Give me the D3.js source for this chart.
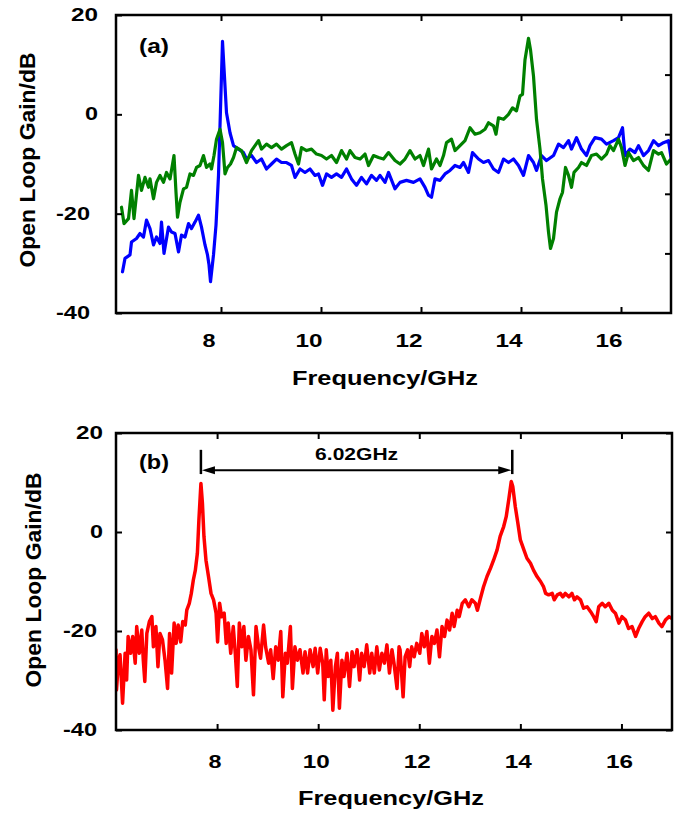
<!DOCTYPE html>
<html lang="en">
<head>
<meta charset="utf-8">
<title>Open Loop Gain</title>
<script src="https://d3js.org/d3.v7.min.js"></script>
<style>
  body { margin: 0; background: #fff; }
  text { font-family: "Liberation Sans", Arial, sans-serif; font-weight: bold; fill: #000; }
  .frame { fill: none; stroke: #000; stroke-width: 2.5; }
  .tick line { stroke: #000; stroke-width: 2; }
  .trace { fill: none; stroke-linejoin: round; stroke-linecap: round; }
</style>
</head>
<body>
<script>
// tick values
const xTicks = [8, 10, 12, 14, 16];
const yTicks = [20, 0, -20, -40];
const rightTicksA = [8, -4, -16, -28];   // panel (a) right-hand ticks sit off the left grid

// panel (a): [GHz, dB]
const blueA = [[6.03,-31.7],[6.08,-29],[6.18,-28.3],[6.21,-25.7],[6.31,-25],[6.38,-24],[6.45,-24.7],[6.51,-21.3],[6.58,-23],[6.65,-26.3],[6.71,-24.7],[6.78,-26],[6.81,-21.7],[6.86,-28],[6.95,-22.7],[7.01,-23.7],[7.08,-24],[7.15,-27.7],[7.21,-24.3],[7.28,-24.7],[7.35,-22],[7.41,-23],[7.48,-21.7],[7.55,-20.3],[7.61,-22.7],[7.68,-26.3],[7.73,-28.3],[7.76,-30.3],[7.79,-33.7],[7.85,-28.3],[7.9,-22.3],[7.95,-12.3],[7.98,-2.3],[8.03,14.7],[8.11,0.3],[8.18,-3.7],[8.25,-6.3],[8.35,-7],[8.45,-7.7],[8.51,-9],[8.61,-8.3],[8.71,-9.7],[8.81,-9],[8.91,-11],[9.01,-10],[9.11,-9],[9.21,-9.7],[9.31,-9.7],[9.41,-10.3],[9.48,-12.7],[9.58,-11],[9.68,-11.7],[9.78,-11],[9.88,-12.3],[9.95,-12],[10.03,-14.3],[10.11,-12],[10.21,-12.7],[10.31,-12],[10.41,-12.7],[10.51,-11],[10.61,-13],[10.71,-14.3],[10.81,-12.7],[10.91,-14],[11.01,-12.3],[11.11,-13.3],[11.18,-12.3],[11.28,-13.7],[11.35,-11.7],[11.48,-15],[11.58,-13.7],[11.71,-13.3],[11.85,-13.7],[11.98,-13],[12.08,-14.7],[12.15,-16.3],[12.21,-16.7],[12.28,-13],[12.38,-13.3],[12.48,-12],[12.58,-11.3],[12.68,-10.3],[12.78,-10.7],[12.85,-9.7],[12.95,-11.7],[13.03,-7.7],[13.15,-9],[13.25,-9.7],[13.35,-9.3],[13.45,-11],[13.55,-11.7],[13.65,-9],[13.75,-9.7],[13.85,-9],[13.95,-10.3],[14.05,-12.3],[14.15,-8.3],[14.25,-9.7],[14.31,-11.3],[14.41,-8.3],[14.51,-9.3],[14.65,-8.3],[14.75,-6],[14.85,-6.7],[14.95,-5.3],[15.01,-7],[15.11,-4.7],[15.21,-7],[15.31,-8.3],[15.38,-6.3],[15.48,-4.7],[15.61,-5],[15.71,-6],[15.85,-5.3],[15.95,-4.7],[16.03,-2.7],[16.08,-8.3],[16.18,-7],[16.28,-7.7],[16.35,-6.3],[16.45,-8.3],[16.55,-7.3],[16.65,-5.3],[16.75,-6.3],[16.85,-5.7],[16.95,-5.3],[17.0,-8.7]];

const greenA = [[6.01,-18.7],[6.06,-22],[6.15,-21],[6.21,-15.3],[6.26,-21],[6.35,-12.3],[6.41,-15.3],[6.48,-12.7],[6.55,-14.7],[6.58,-13],[6.65,-17],[6.71,-13.7],[6.78,-12.3],[6.85,-13.7],[6.91,-11.7],[6.98,-13],[7.06,-8.3],[7.1,-15.7],[7.13,-20.7],[7.18,-17.7],[7.25,-15],[7.31,-14.7],[7.38,-12],[7.45,-12.3],[7.51,-10.7],[7.58,-10.3],[7.65,-8.3],[7.71,-10.7],[7.78,-10],[7.81,-11],[7.86,-8.3],[7.91,-5],[7.98,-3],[8.03,-5.7],[8.08,-12],[8.13,-10.7],[8.19,-10],[8.25,-8.7],[8.31,-6.7],[8.41,-7.3],[8.51,-9.7],[8.61,-7.3],[8.68,-6.3],[8.75,-5.3],[8.81,-7],[8.91,-6],[9.01,-6.7],[9.11,-6],[9.21,-7],[9.31,-6.3],[9.41,-5.7],[9.48,-8],[9.55,-10],[9.61,-6.7],[9.71,-7.3],[9.81,-7],[9.91,-8],[10.01,-8.3],[10.11,-9],[10.21,-8.3],[10.31,-9.7],[10.41,-7.3],[10.51,-9],[10.58,-7.3],[10.68,-8.7],[10.78,-9],[10.88,-8],[10.95,-10.3],[11.05,-8.3],[11.15,-8.7],[11.25,-9],[11.35,-7.7],[11.48,-9.3],[11.58,-10],[11.68,-9],[11.78,-7.3],[11.88,-9],[11.98,-8.3],[12.05,-10.3],[12.15,-7],[12.21,-11],[12.31,-9],[12.38,-10.3],[12.45,-8.3],[12.51,-5.7],[12.61,-5],[12.68,-7.3],[12.78,-6.3],[12.88,-5.3],[12.98,-2.7],[13.08,-4],[13.18,-3.7],[13.28,-3],[13.35,-1.7],[13.45,-2.3],[13.5,-4],[13.55,-0.7],[13.65,-1],[13.75,0],[13.83,1.3],[13.91,0.7],[13.98,3.7],[14.03,4],[14.08,11],[14.15,15.3],[14.19,13],[14.25,7.7],[14.31,-1],[14.38,-7],[14.43,-13],[14.5,-18.3],[14.55,-23.7],[14.59,-27],[14.65,-25],[14.71,-19.7],[14.78,-17],[14.83,-15.7],[14.89,-10.7],[14.95,-12.3],[15.01,-14.7],[15.06,-11.7],[15.15,-10.7],[15.21,-9.7],[15.31,-10.3],[15.41,-8.3],[15.51,-8],[15.61,-9],[15.71,-8],[15.78,-6.3],[15.85,-7.3],[15.95,-5],[16.01,-6.7],[16.08,-10.3],[16.15,-7.7],[16.25,-9.3],[16.35,-8.7],[16.45,-10.3],[16.55,-11.3],[16.65,-7.3],[16.75,-8],[16.81,-7.7],[16.91,-10],[17.0,-9]];

// panel (b): [GHz, dB]
const redB = [[6.0,-23.8],[6.01,-31.9],[6.05,-25.9],[6.08,-24.8],[6.13,-34.6],[6.18,-24.5],[6.21,-29.9],[6.24,-21.1],[6.29,-24.5],[6.33,-21.1],[6.38,-26.5],[6.41,-19.1],[6.46,-24.5],[6.51,-19.8],[6.54,-25.9],[6.57,-30.2],[6.61,-20.5],[6.66,-18.1],[6.71,-17.1],[6.74,-23.2],[6.79,-19.1],[6.83,-27.2],[6.87,-20.5],[6.92,-21.8],[6.97,-25.9],[7.02,-31.6],[7.06,-20.5],[7.1,-28.5],[7.15,-18.4],[7.19,-22.5],[7.23,-18.8],[7.28,-22.2],[7.32,-18.1],[7.37,-18.8],[7.4,-15.8],[7.45,-14.4],[7.49,-12.4],[7.53,-9.7],[7.57,-7.7],[7.61,-4.3],[7.64,2.4],[7.68,9.8],[7.71,5.8],[7.74,-0.9],[7.78,-5.7],[7.83,-9],[7.88,-12.4],[7.93,-13.7],[7.98,-16.4],[8.01,-22.2],[8.05,-14.4],[8.09,-17.1],[8.14,-16.4],[8.18,-22.5],[8.22,-18.4],[8.27,-24.5],[8.32,-19.1],[8.36,-24.5],[8.4,-31.2],[8.44,-18.4],[8.49,-23.2],[8.53,-19.1],[8.57,-25.9],[8.62,-21.1],[8.67,-23.8],[8.72,-32.9],[8.77,-19.1],[8.82,-23.2],[8.86,-25.5],[8.92,-18.8],[8.96,-23.2],[9.02,-26.5],[9.06,-23.8],[9.11,-29.6],[9.16,-23.2],[9.21,-25.9],[9.26,-20.1],[9.3,-33.3],[9.35,-24.5],[9.39,-26.5],[9.45,-19.1],[9.49,-31.6],[9.54,-23.2],[9.59,-25.9],[9.64,-23.8],[9.7,-28.5],[9.74,-24.2],[9.79,-28.5],[9.84,-23.8],[9.9,-27.2],[9.94,-23.5],[9.99,-28.5],[10.04,-23.5],[10.09,-26.5],[10.12,-33.9],[10.16,-23.8],[10.2,-29.2],[10.25,-25.9],[10.29,-36],[10.34,-27.2],[10.38,-24.5],[10.42,-35.6],[10.47,-25.9],[10.51,-29.2],[10.57,-24.5],[10.62,-31.2],[10.67,-24.2],[10.71,-27.2],[10.77,-23.8],[10.82,-29.9],[10.86,-24.5],[10.91,-27.2],[10.96,-22.8],[11.02,-28.5],[11.06,-24.5],[11.11,-28.5],[11.16,-23.2],[11.21,-27.9],[11.26,-24.5],[11.31,-26.5],[11.36,-22.8],[11.41,-28.5],[11.46,-23.8],[11.5,-26.5],[11.56,-31.6],[11.6,-23.2],[11.62,-23.8],[11.68,-33.3],[11.72,-25.2],[11.77,-23.8],[11.81,-27.2],[11.85,-23.2],[11.9,-25.2],[11.95,-22.5],[12.01,-24.5],[12.05,-20.5],[12.1,-23.2],[12.15,-20.1],[12.2,-26.5],[12.25,-21.1],[12.3,-22.5],[12.35,-19.8],[12.4,-25.2],[12.45,-19.1],[12.5,-21.1],[12.55,-17.8],[12.6,-19.8],[12.65,-16.4],[12.69,-19.1],[12.75,-15.8],[12.79,-17.1],[12.85,-14.4],[12.91,-13.7],[12.98,-15.1],[13.04,-13.7],[13.11,-14.4],[13.15,-15.8],[13.21,-13.4],[13.27,-11.1],[13.34,-9],[13.41,-7.3],[13.47,-5.7],[13.54,-3.6],[13.6,-0.9],[13.67,1.1],[13.72,3.1],[13.77,6.5],[13.82,10.2],[13.85,9.2],[13.9,5.1],[13.95,1.8],[14.0,-1.6],[14.07,-3.6],[14.13,-5.3],[14.2,-6.3],[14.26,-7.7],[14.33,-9],[14.4,-10],[14.46,-11.1],[14.5,-12.4],[14.56,-12.7],[14.63,-12.4],[14.67,-13.7],[14.73,-12.7],[14.79,-12.4],[14.84,-13.1],[14.89,-12.4],[14.96,-13.1],[15.02,-12.4],[15.07,-13.7],[15.12,-13.1],[15.19,-13.7],[15.25,-15.4],[15.32,-15.1],[15.39,-16.1],[15.45,-17.1],[15.5,-18.1],[15.55,-15.1],[15.62,-14.4],[15.68,-15.1],[15.75,-14.4],[15.82,-15.8],[15.88,-16.4],[15.95,-18.4],[16.01,-17.1],[16.08,-17.8],[16.14,-19.5],[16.21,-19.1],[16.28,-21.1],[16.34,-19.5],[16.41,-18.1],[16.47,-17.1],[16.54,-16.4],[16.61,-17.5],[16.67,-17.1],[16.74,-18.4],[16.8,-19.1],[16.87,-17.8],[16.94,-17.1],[17.0,-17.5]];

// peak spacing annotation in panel (b)
const spanText = "6.02GHz";
const spanFrom = 7.68, spanTo = 13.84;
const spanLevel = 12.5, spanBarTop = 16.6, spanBarBottom = 11.7;

const svg = d3.select("body").append("svg")
  .attr("width", 676)
  .attr("height", 815);

function labelWidth(s) {
  // measured ink widths of the bold tick labels
  return s.replace("-", "").length * 14 - 1 + (s.startsWith("-") ? 7 : 0);
}

function drawPanel(p) {
  const x = d3.scaleLinear().domain(p.xDomain).range([p.left, p.right]);
  const y = d3.scaleLinear().domain([-40, 20]).range([p.bottom, p.top]);
  const g = svg.append("g");

  g.append("clipPath").attr("id", p.id + "-clip")
    .append("rect")
    .attr("x", p.left).attr("y", p.top)
    .attr("width", p.right - p.left).attr("height", p.bottom - p.top);

  const line = d3.line().x(d => x(d[0])).y(d => y(d[1]));
  p.series.forEach(s => {
    g.append("path")
      .attr("class", "trace")
      .attr("clip-path", `url(#${p.id}-clip)`)
      .attr("stroke", s.color)
      .attr("stroke-width", s.width)
      .attr("d", line(s.values));
  });

  // inward ticks on all four sides
  const noDomain = a => a.select(".domain").remove();
  g.append("g").attr("transform", `translate(0,${p.bottom})`)
    .call(d3.axisBottom(x).tickValues(xTicks).tickSize(-6).tickFormat("")).call(noDomain);
  g.append("g").attr("transform", `translate(0,${p.top})`)
    .call(d3.axisTop(x).tickValues(xTicks).tickSize(-6).tickFormat("")).call(noDomain);
  g.append("g").attr("transform", `translate(${p.left},0)`)
    .call(d3.axisLeft(y).tickValues(yTicks).tickSize(-6).tickFormat("")).call(noDomain);
  g.append("g").attr("transform", `translate(${p.right},0)`)
    .call(d3.axisRight(y).tickValues(p.rightTicks).tickSize(-6).tickFormat("")).call(noDomain);

  g.append("rect").attr("class", "frame")
    .attr("x", p.left).attr("y", p.top)
    .attr("width", p.right - p.left).attr("height", p.bottom - p.top);

  // tick labels
  g.selectAll(".xlab").data(xTicks).enter().append("text")
    .attr("x", d => x(d) + p.xLabelDx)
    .attr("y", p.xLabelY)
    .attr("text-anchor", "middle")
    .attr("font-size", 17.5)
    .attr("textLength", d => labelWidth(String(d)))
    .attr("lengthAdjust", "spacingAndGlyphs")
    .text(d => d);

  g.selectAll(".ylab").data(yTicks).enter().append("text")
    .attr("x", d => d < 0 ? p.yLabelXNeg : p.yLabelX)
    .attr("y", d => y(d) + 6)
    .attr("text-anchor", "end")
    .attr("font-size", 17.5)
    .attr("textLength", d => labelWidth(String(d)))
    .attr("lengthAdjust", "spacingAndGlyphs")
    .text(d => d);

  // axis titles
  g.append("text")
    .attr("x", p.xTitle[0]).attr("y", p.xTitle[1])
    .attr("text-anchor", "middle")
    .attr("font-size", 20)
    .attr("textLength", 186)
    .attr("lengthAdjust", "spacingAndGlyphs")
    .text("Frequency/GHz");

  g.append("text")
    .attr("transform", `translate(${p.yTitle[0]},${p.yTitle[1]}) rotate(-90)`)
    .attr("text-anchor", "middle")
    .attr("font-size", 22)
    .attr("textLength", 215)
    .attr("lengthAdjust", "spacingAndGlyphs")
    .text("Open Loop Gain/dB");

  g.append("text")
    .attr("x", p.left + 23).attr("y", p.tagY)
    .attr("font-size", 20)
    .attr("textLength", 30)
    .attr("lengthAdjust", "spacingAndGlyphs")
    .text(p.tag);

  return { x, y, g };
}

drawPanel({
  id: "a", tag: "(a)", tagY: 53,
  left: 116, right: 671, top: 15, bottom: 313,
  xDomain: [5.9, 17],
  rightTicks: rightTicksA,
  series: [{ color: "#0000ff", width: 3.2, values: blueA }, { color: "#008000", width: 3.2, values: greenA }],
  xLabelDx: -12, xLabelY: 347,
  yLabelX: 98, yLabelXNeg: 90,
  xTitle: [385, 385], yTitle: [35, 160]
});

const pb = drawPanel({
  id: "b", tag: "(b)", tagY: 469,
  left: 116, right: 672, top: 433, bottom: 730,
  xDomain: [6, 17],
  rightTicks: yTicks,
  series: [{ color: "#ff0000", width: 3.5, values: redB }],
  xLabelDx: -2, xLabelY: 768,
  yLabelX: 103, yLabelXNeg: 97,
  xTitle: [391, 805], yTitle: [41, 580]
});

// spacing arrow between the two peaks
const ax0 = pb.x(spanFrom), ax1 = pb.x(spanTo), ay = pb.y(spanLevel);
[ax0, ax1].forEach(xv => {
  pb.g.append("line")
    .attr("x1", xv).attr("x2", xv)
    .attr("y1", pb.y(spanBarTop)).attr("y2", pb.y(spanBarBottom))
    .attr("stroke", "#000").attr("stroke-width", 2.5);
});
pb.g.append("line")
  .attr("x1", ax0 + 10).attr("x2", ax1 - 10)
  .attr("y1", ay).attr("y2", ay)
  .attr("stroke", "#000").attr("stroke-width", 2);
pb.g.append("path")
  .attr("d", `M${ax0 + 1},${ay} L${ax0 + 14},${ay - 4} L${ax0 + 14},${ay + 4} Z`)
  .attr("fill", "#000");
pb.g.append("path")
  .attr("d", `M${ax1 - 1},${ay} L${ax1 - 14},${ay - 4} L${ax1 - 14},${ay + 4} Z`)
  .attr("fill", "#000");
pb.g.append("text")
  .attr("x", (ax0 + ax1) / 2).attr("y", ay - 10)
  .attr("text-anchor", "middle")
  .attr("font-size", 17)
  .attr("textLength", 83)
  .attr("lengthAdjust", "spacingAndGlyphs")
  .text(spanText);
</script>
</body>
</html>
